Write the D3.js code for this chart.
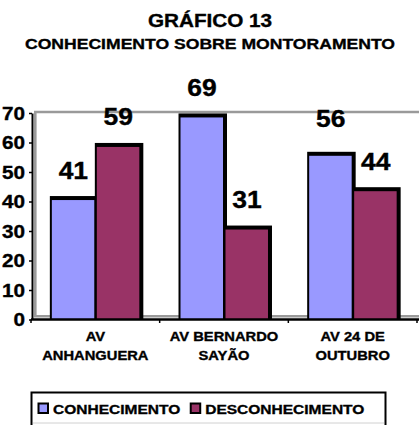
<!DOCTYPE html>
<html>
<head>
<meta charset="utf-8">
<script src="https://cdn.jsdelivr.net/npm/d3@7"></script>
<style>
  body { margin: 0; background: #fff; }
  text { font-family: "Liberation Sans", Arial, sans-serif; font-weight: bold; fill: #000; stroke: #000; stroke-width: 0.35px; }
</style>
</head>
<body>
<svg id="chart" width="419" height="425"></svg>
<script>
// chart values
const titleLines = ["GRÁFICO 13", "CONHECIMENTO SOBRE MONTORAMENTO"];
const categories = ["AV ANHANGUERA", "AV BERNARDO SAYÃO", "AV 24 DE OUTUBRO"];
const categoryLines = [["AV", "ANHANGUERA"], ["AV BERNARDO", "SAYÃO"], ["AV 24 DE", "OUTUBRO"]];
const series = ["CONHECIMENTO", "DESCONHECIMENTO"];
const conhecimento = [41, 69, 56];
const desconhecimento = [59, 31, 44];
const yTicks = [0, 10, 20, 30, 40, 50, 60, 70];

const colors = { CONHECIMENTO: "#9999ff", DESCONHECIMENTO: "#993366" };
const values = { CONHECIMENTO: conhecimento, DESCONHECIMENTO: desconhecimento };
const SX = 1.15; // the original text is a little wide

const svg = d3.select("#chart");
const plot = { left: 31, right: 417, top: 113, bottom: 319.5 };

const y = d3.scaleLinear().domain([0, 70]).range([plot.bottom, plot.top]);
const x0 = d3.scaleBand().domain(categories).range([plot.left, plot.right]).padding(0);
const x1 = d3.scaleBand().domain(series)
    .range([0.5, x0.bandwidth() + 0.5])
    .paddingInner(0).paddingOuter(0.43);

// put a text at (x, y) and stretch it sideways
const stretch = (sel) => sel.each(function () {
    const t = d3.select(this);
    const tx = +t.attr("x") || 0, ty = +t.attr("y") || 0;
    t.attr("x", 0).attr("y", 0).attr("transform", `translate(${tx},${ty}) scale(${SX},1)`);
});

// title
svg.selectAll(".title").data(titleLines).join("text")
    .attr("class", "title")
    .attr("x", 210)
    .attr("y", (d, i) => i === 0 ? 27 : 49)
    .attr("text-anchor", "middle")
    .style("font-size", (d, i) => i === 0 ? "18px" : "15.3px")
    .text(d => d)
    .call(stretch);

// plot walls
const walls = svg.append("g").attr("stroke", "#9a9a9a").attr("fill", "none");
walls.append("line").attr("x1", 34).attr("x2", 419).attr("y1", 112).attr("y2", 112).attr("stroke-width", 2.6);
walls.append("line").attr("x1", 35.3).attr("x2", 35.3).attr("y1", 111).attr("y2", 317).attr("stroke-width", 2.6);
walls.append("line").attr("x1", 34).attr("x2", 419).attr("y1", 316.2).attr("y2", 316.2).attr("stroke-width", 2.4);

// bars: black body first, coloured face on top (gives the thick top/right edge)
const bars = categories.flatMap((c, i) => series.map(s => ({ cat: c, s, v: values[s][i] })));
const barG = svg.append("g");
bars.forEach(d => {
    const bx = x0(d.cat) + x1(d.s), bw = x1.bandwidth(), by = y(d.v);
    barG.append("rect")
        .attr("x", bx - 1).attr("y", by - 2.5)
        .attr("width", bw + 3.5).attr("height", y(0) - by + 2.5)
        .attr("fill", "#000");
    barG.append("rect")
        .attr("x", bx + 1).attr("y", by + 1.5)
        .attr("width", bw - 2.5).attr("height", y(0) - by - 1.5)
        .attr("fill", colors[d.s]);
});

// value labels (56 sits a bit higher in the original)
const labelLift = (d) => (d.cat === "AV 24 DE OUTUBRO" && d.s === "CONHECIMENTO") ? 27 : 20;
svg.selectAll(".val").data(bars).join("text")
    .attr("class", "val")
    .attr("x", d => x0(d.cat) + x1(d.s) + x1.bandwidth() / 2)
    .attr("y", d => y(d.v) - labelLift(d))
    .attr("text-anchor", "middle")
    .style("font-size", "23px")
    .text(d => d.v)
    .call(stretch);

// y axis
const yAxis = d3.axisLeft(y).tickValues(yTicks).tickSize(3).tickPadding(4).tickSizeOuter(0);
const yg = svg.append("g").attr("transform", `translate(${plot.left + 1},0)`).call(yAxis);
yg.attr("font-family", null).attr("font-size", null);
yg.select(".domain").attr("stroke", "#000").attr("stroke-width", 2);
yg.selectAll(".tick line").attr("stroke", "#000").attr("stroke-width", 1.5);
yg.selectAll(".tick text")
    .style("font-size", "18px")
    .attr("dy", null).attr("y", 6.3)
    .call(stretch);

// x axis
const xg = svg.append("g");
xg.append("line")
    .attr("x1", plot.left).attr("x2", 419)
    .attr("y1", plot.bottom).attr("y2", plot.bottom)
    .attr("stroke", "#000").attr("stroke-width", 2.4);
const bounds = categories.map(c => x0(c)).concat([plot.right]);
xg.selectAll(".xt").data(bounds).join("line")
    .attr("class", "xt")
    .attr("x1", d => d).attr("x2", d => d)
    .attr("y1", plot.bottom).attr("y2", plot.bottom + 3.5)
    .attr("stroke", "#000").attr("stroke-width", 1.5);
categories.forEach((c, i) => {
    xg.selectAll(null).data(categoryLines[i]).join("text")
        .attr("x", x0(c) + x0.bandwidth() / 2)
        .attr("y", (d, k) => 341 + k * 19)
        .attr("text-anchor", "middle")
        .style("font-size", "12.8px")
        .text(d => d)
        .call(stretch);
});

// legend
const lg = svg.append("g");
lg.append("rect")
    .attr("x", 31.5).attr("y", 392.5).attr("width", 354).attr("height", 60)
    .attr("fill", "#fff").attr("stroke", "#000").attr("stroke-width", 2);
lg.append("line")
    .attr("x1", 33).attr("x2", 384).attr("y1", 423).attr("y2", 423)
    .attr("stroke", "#d0d0d0").attr("stroke-width", 1);
let lx = 38.5;
series.forEach(s => {
    lg.append("rect")
        .attr("x", lx).attr("y", 403.5).attr("width", 9.5).attr("height", 9.5)
        .attr("fill", colors[s]).attr("stroke", "#000").attr("stroke-width", 2);
    const t = lg.append("text")
        .attr("x", lx + 14.5).attr("y", 413.5)
        .style("font-size", "13.5px")
        .text(s)
        .call(stretch);
    lx += 14.5 + t.node().getComputedTextLength() * SX + 10.5;
});
</script>
</body>
</html>
